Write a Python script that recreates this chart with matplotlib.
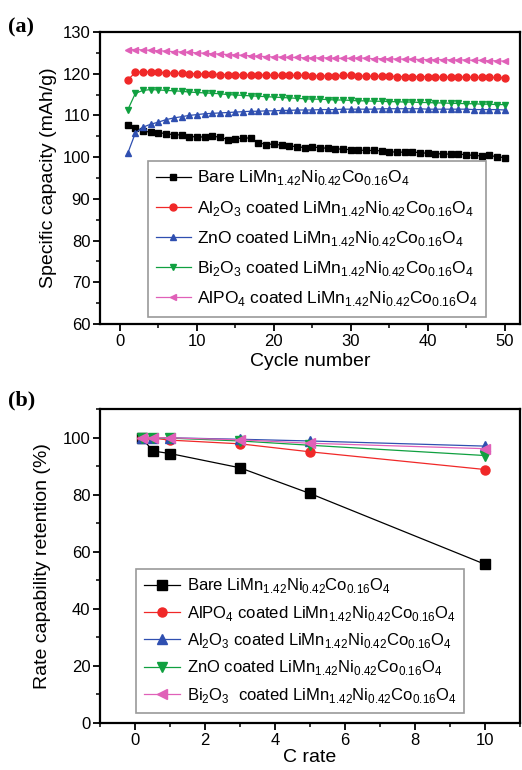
import matplotlib
matplotlib.use("Agg")
import matplotlib.pyplot as plt
from matplotlib.ticker import MultipleLocator
import matplotlib._mathtext as _mt

plt.rcParams['font.family'] = ['Liberation Sans', 'DejaVu Sans']
plt.rcParams['mathtext.fontset'] = 'custom'
plt.rcParams['mathtext.rm'] = 'Liberation Sans'
plt.rcParams['mathtext.it'] = 'Liberation Sans:italic'
plt.rcParams['mathtext.default'] = 'regular'
try:
    _mt.FontConstantsBase.sub1 = 0.42
    _mt.FontConstantsBase.sub2 = 0.6
except Exception:
    pass

# ---------- Panel (a) data ----------
cycles = list(range(1, 51))
bare_a = [107.6, 107.1, 106.2, 106.0, 105.9, 105.6, 105.4, 105.3, 104.9, 104.9,
          104.8, 105.0, 104.8, 104.2, 104.3, 104.7, 104.5, 103.5, 103.0, 103.2,
          102.8, 102.7, 102.5, 102.3, 102.4, 102.3, 102.1, 102.0, 101.9, 101.8,
          101.7, 101.6, 101.6, 101.5, 101.3, 101.2, 101.2, 101.2, 101.1, 100.9,
          100.8, 100.8, 100.7, 100.7, 100.6, 100.4, 100.3, 100.4, 100.1, 99.9]
al2o3_a = [118.5, 120.3, 120.5, 120.4, 120.3, 120.2, 120.1, 120.1, 120.0, 120.0,
           119.9, 119.9, 119.8, 119.8, 119.8, 119.7, 119.7, 119.7, 119.7, 119.6,
           119.6, 119.6, 119.6, 119.6, 119.5, 119.5, 119.5, 119.5, 119.6, 119.7,
           119.5, 119.4, 119.4, 119.4, 119.4, 119.3, 119.3, 119.3, 119.3, 119.3,
           119.2, 119.2, 119.2, 119.2, 119.2, 119.1, 119.1, 119.1, 119.1, 119.0]
zno_a = [100.9, 105.8, 107.2, 107.9, 108.4, 109.0, 109.4, 109.7, 110.0, 110.2,
         110.4, 110.5, 110.6, 110.7, 110.8, 110.9, 111.0, 111.0, 111.1, 111.1,
         111.2, 111.2, 111.3, 111.3, 111.3, 111.4, 111.4, 111.4, 111.5, 111.5,
         111.5, 111.5, 111.5, 111.6, 111.6, 111.6, 111.6, 111.6, 111.6, 111.5,
         111.5, 111.5, 111.5, 111.5, 111.5, 111.4, 111.4, 111.4, 111.4, 111.3]
bi2o3_a = [111.3, 115.3, 116.0, 116.2, 116.1, 116.0, 115.9, 115.8, 115.6, 115.5,
           115.4, 115.3, 115.2, 115.0, 114.9, 114.8, 114.7, 114.6, 114.5, 114.4,
           114.3, 114.2, 114.1, 114.0, 113.9, 113.9, 113.8, 113.7, 113.7, 113.6,
           113.5, 113.5, 113.4, 113.4, 113.3, 113.3, 113.2, 113.2, 113.1, 113.1,
           113.0, 113.0, 112.9, 112.9, 112.8, 112.8, 112.7, 112.7, 112.6, 112.6]
alpo4_a = [125.8, 125.8, 125.7, 125.6, 125.5, 125.4, 125.3, 125.2, 125.1, 125.0,
           124.9, 124.8, 124.7, 124.6, 124.5, 124.4, 124.3, 124.2, 124.1, 124.0,
           124.0, 123.9, 123.9, 123.8, 123.8, 123.8, 123.8, 123.7, 123.7, 123.7,
           123.8, 123.7, 123.6, 123.6, 123.6, 123.5, 123.5, 123.5, 123.4, 123.4,
           123.4, 123.4, 123.3, 123.3, 123.3, 123.2, 123.2, 123.1, 123.1, 123.0]

# ---------- Panel (b) data ----------
c_rate = [0.2, 0.5, 1, 3, 5, 10]
bare_b = [100.0, 95.3, 94.4, 89.4, 80.4, 55.6]
alpo4_b = [100.0, 99.8, 99.1, 97.8, 95.0, 88.8]
al2o3_b = [100.0, 100.0, 99.9, 99.4, 98.8, 97.0]
zno_b = [100.0, 100.0, 99.8, 98.8, 97.3, 93.7]
bi2o3_b = [100.0, 100.0, 99.9, 99.2, 98.0, 96.1]

BLACK = '#000000'
RED = '#f02828'
BLUE = '#2f4fb0'
GREEN = '#10a040'
PINK = '#e060b8'

FORM = r' coated LiMn$_{1.42}$Ni$_{0.42}$Co$_{0.16}$O$_4$'
BARE = r'Bare LiMn$_{1.42}$Ni$_{0.42}$Co$_{0.16}$O$_4$'

fig = plt.figure(figsize=(5.22, 7.70), dpi=100)
W, H = 522, 770

def axes_px(l, t, r, b):
    return fig.add_axes([l / W, 1 - b / H, (r - l) / W, (b - t) / H])

def style(ax):
    for s in ax.spines.values():
        s.set_linewidth(1.6)
    ax.tick_params(which='major', direction='out', length=5, width=1.3,
                   labelsize=12, pad=2, top=False, right=False)
    ax.tick_params(which='minor', direction='out', length=3, width=1.1,
                   top=False, right=False)

# ---- (a)
ax1 = axes_px(100, 32, 520, 324)
ms = 5
ax1.plot(cycles, bare_a, '-s', color=BLACK, ms=ms, lw=0.9, label=BARE)
ax1.plot(cycles, al2o3_a, '-o', color=RED, ms=ms, lw=0.9,
         label=r'Al$_2$O$_3$' + FORM)
ax1.plot(cycles, zno_a, '-^', color=BLUE, ms=ms, lw=0.9, label='ZnO' + FORM)
ax1.plot(cycles, bi2o3_a, '-v', color=GREEN, ms=ms, lw=0.9,
         label=r'Bi$_2$O$_3$' + FORM)
ax1.plot(cycles, alpo4_a, '-<', color=PINK, ms=ms, lw=0.9,
         label=r'AlPO$_4$' + FORM)
ax1.set_xlim(-2.6, 52)
ax1.set_ylim(60, 130)
ax1.xaxis.set_major_locator(MultipleLocator(10))
ax1.xaxis.set_minor_locator(MultipleLocator(5))
ax1.yaxis.set_major_locator(MultipleLocator(10))
ax1.yaxis.set_minor_locator(MultipleLocator(5))
style(ax1)
ax1.set_xlabel('Cycle number', fontsize=14, labelpad=3)
ax1.set_ylabel('Specific capacity (mAh/g)', fontsize=14, labelpad=4)
leg1 = ax1.legend(loc='lower left', bbox_to_anchor=(48 / 420, 7 / 292),
                  borderaxespad=0,
                  fontsize=12.5, frameon=True, fancybox=False, edgecolor='#808080',
                  handlelength=2.0, handletextpad=0.4, labelspacing=0.6,
                  borderpad=0.45)
leg1.get_frame().set_linewidth(1.2)

# ---- (b)
ax2 = axes_px(100, 409, 520, 723)
ms2 = 6.5
ax2.plot(c_rate, bare_b, '-s', color=BLACK, ms=ms2, lw=0.9, label=BARE)
ax2.plot(c_rate, alpo4_b, '-o', color=RED, ms=ms2, lw=0.9,
         label=r'AlPO$_4$' + FORM)
ax2.plot(c_rate, al2o3_b, '-^', color=BLUE, ms=ms2, lw=0.9,
         label=r'Al$_2$O$_3$' + FORM)
ax2.plot(c_rate, zno_b, '-v', color=GREEN, ms=ms2, lw=0.9, label='ZnO' + FORM)
ax2.plot(c_rate, bi2o3_b, '-<', color=PINK, ms=ms2, lw=0.9,
         label=r'Bi$_2$O$_3$ ' + FORM)
ax2.set_xlim(-1, 11)
ax2.set_ylim(0, 110)
ax2.xaxis.set_major_locator(MultipleLocator(2))
ax2.xaxis.set_minor_locator(MultipleLocator(1))
ax2.yaxis.set_major_locator(MultipleLocator(20))
ax2.yaxis.set_minor_locator(MultipleLocator(10))
style(ax2)
ax2.set_xlabel('C rate', fontsize=14, labelpad=1)
ax2.set_ylabel('Rate capability retention (%)', fontsize=14, labelpad=8)
leg2 = ax2.legend(loc='lower left', bbox_to_anchor=(36 / 420, 10 / 314),
                  borderaxespad=0,
                  fontsize=12, frameon=True, fancybox=False, edgecolor='#808080',
                  handlelength=2.2, handletextpad=0.4, labelspacing=0.45,
                  borderpad=0.45)
leg2.get_frame().set_linewidth(1.2)

# Panel labels
fig.text(8 / W, 1 - 27 / H, '(a)', fontsize=16, fontweight='bold',
         family='Liberation Serif', va='center', ha='left')
fig.text(8 / W, 1 - 400 / H, '(b)', fontsize=16, fontweight='bold',
         family='Liberation Serif', va='center', ha='left')

fig.savefig('out.png', dpi=100)
